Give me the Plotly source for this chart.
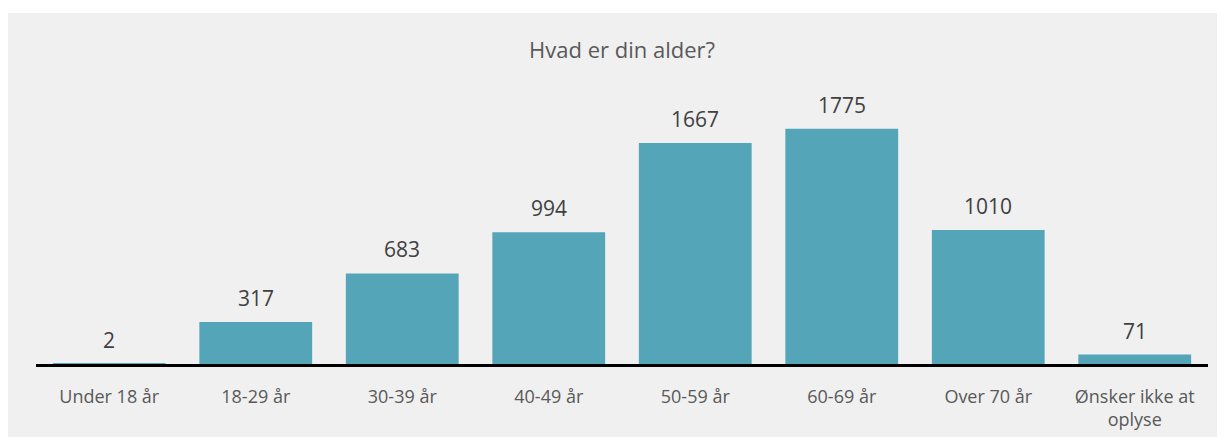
import plotly.graph_objects as go

categories = ["Under 18 år", "18-29 år", "30-39 år", "40-49 år", "50-59 år",
              "60-69 år", "Over 70 år", "Ønsker ikke at<br>oplyse"]
values = [2, 317, 683, 994, 1667, 1775, 1010, 71]
title_text = "Hvad er din alder?"

FONT = "Open Sans, Lato, sans-serif"
BAR = "#55a5b9"
BG = "#f0f0f0"

# page body has an 8px margin, so the figure is laid out 8px up/left of the target
W, H = 1217, 429
L, R, T, B = 28, 17, 72, 73
plot_h = H - T - B

fig = go.Figure()
fig.add_trace(go.Bar(x=categories, y=values, marker=dict(color=BAR, line=dict(width=0)),
                     hoverinfo="x+y"))

for c, v in zip(categories, values):
    fig.add_annotation(x=c, y=v, text=str(v), showarrow=False, yanchor="middle",
                       yshift=24, font=dict(family=FONT, size=21, color="#404040"))

fig.add_shape(type="rect", xref="paper", yref="paper",
              x0=-0.1, x1=1.1, y0=-0.4, y1=(H - B - 5) / plot_h,
              fillcolor=BG, line=dict(width=0), layer="below")

fig.update_layout(
    width=W, height=H,
    margin=dict(l=L, r=R, t=T, b=B, pad=0, autoexpand=False),
    paper_bgcolor="white", plot_bgcolor="rgba(0,0,0,0)",
    bargap=0.23,
    showlegend=False,
    title=dict(text=title_text, x=0.5, xref="paper", xanchor="center",
               y=1 - 42 / H, yref="container", yanchor="middle",
               font=dict(family=FONT, size=22, color="#595959")),
    font=dict(family=FONT, color="#595959"),
)
fig.update_xaxes(showline=True, linecolor="black", linewidth=3, ticks="",
                 tickfont=dict(family=FONT, size=18, color="#595959"),
                 ticklabelstandoff=14, showgrid=False, automargin=False)
fig.update_yaxes(visible=False, range=[0, plot_h / 0.1326], showgrid=False,
                 automargin=False)

fig.write_html("out.html")
